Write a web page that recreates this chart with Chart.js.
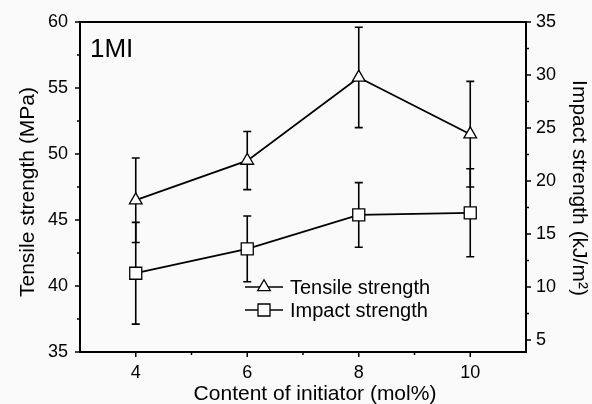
<!DOCTYPE html>
<html>
<head>
<meta charset="utf-8">
<script src="https://cdn.jsdelivr.net/npm/chart.js@4"></script>
<style>
  html, body { margin: 0; padding: 0; background: #fafafa; }
  #wrap { width: 592px; height: 404px; }
</style>
</head>
<body>
<div id="wrap"><canvas id="chart" width="592" height="404"></canvas></div>
<script>
// initiator content (mol%) and measured strengths with standard deviations
const initiator = [4, 6, 8, 10];
const tensile = [46.5, 49.5, 55.8, 51.5];
const tensileErr = [3.2, 2.2, 3.8, 4.0];
const impact = [11.3, 13.6, 16.8, 17.0];
const impactErr = [4.8, 3.1, 3.05, 4.15];

// labelled tick values
const xTicks = [4, 6, 8, 10];
const leftTicks = [35, 40, 45, 50, 55, 60];
const rightTicks = [5, 10, 15, 20, 25, 30, 35];

const FONT = "'Liberation Sans', Arial, sans-serif";
const INK = "#000";

const midpoints = (arr) => arr.slice(1).map((v, i) => (arr[i] + v) / 2);

// vertical error bars with caps, drawn under the markers
const errorBars = {
  id: "errorBars",
  beforeDatasetsDraw(chart) {
    const ctx = chart.ctx;
    const x = chart.scales.x;
    ctx.save();
    ctx.strokeStyle = INK;
    ctx.lineWidth = 1.6;
    chart.data.datasets.forEach((ds) => {
      const y = chart.scales[ds.yAxisID];
      ds.data.forEach((v, i) => {
        const px = x.getPixelForValue(initiator[i]);
        const top = y.getPixelForValue(v + ds.errors[i]);
        const bot = y.getPixelForValue(v - ds.errors[i]);
        ctx.beginPath();
        ctx.moveTo(px, top);
        ctx.lineTo(px, bot);
        ctx.moveTo(px - 4, top);
        ctx.lineTo(px + 4, top);
        ctx.moveTo(px - 4, bot);
        ctx.lineTo(px + 4, bot);
        ctx.stroke();
      });
    });
    ctx.restore();
  },
};

// frame top line, tick marks, titles, panel label and legend
const decorations = {
  id: "decorations",
  afterDraw(chart) {
    const ctx = chart.ctx;
    const area = chart.chartArea;
    const x = chart.scales.x;
    const yl = chart.scales.y;
    const yr = chart.scales.y1;
    ctx.save();
    ctx.strokeStyle = INK;
    ctx.fillStyle = INK;

    ctx.lineWidth = 2;
    ctx.beginPath();
    ctx.moveTo(area.left - 1, area.top);
    ctx.lineTo(area.right + 1, area.top);
    ctx.stroke();

    ctx.lineWidth = 1.5;
    ctx.beginPath();
    const tick = (vals, len, fn) => vals.forEach((v) => fn(v, len));
    const leftTick = (v, len) => {
      const p = yl.getPixelForValue(v);
      ctx.moveTo(area.left, p);
      ctx.lineTo(area.left - len, p);
    };
    const rightTick = (v, len) => {
      const p = yr.getPixelForValue(v);
      ctx.moveTo(area.right, p);
      ctx.lineTo(area.right + len, p);
    };
    const bottomTick = (v, len) => {
      const p = x.getPixelForValue(v);
      ctx.moveTo(p, area.bottom);
      ctx.lineTo(p, area.bottom + len);
    };
    tick(leftTicks, 5, leftTick);
    tick(midpoints(leftTicks), 3, leftTick);
    tick(rightTicks, 5, rightTick);
    tick(midpoints(rightTicks), 3, rightTick);
    tick(xTicks, 5, bottomTick);
    tick(midpoints(xTicks), 3, bottomTick);
    ctx.stroke();

    // axis titles
    ctx.font = "21px " + FONT;
    ctx.textAlign = "center";
    ctx.textBaseline = "alphabetic";
    ctx.fillText("Content of initiator (mol%)", 315, 400);

    ctx.save();
    ctx.translate(33.5, 192);
    ctx.rotate(-Math.PI / 2);
    ctx.fillText("Tensile strength (MPa)", 0, 0);
    ctx.restore();

    ctx.save();
    ctx.translate(573, 188);
    ctx.rotate(Math.PI / 2);
    ctx.fillText("Impact strength (kJ/m\u00b2)", 0, 0);
    ctx.restore();

    // panel label
    ctx.font = "26px " + FONT;
    ctx.textAlign = "left";
    ctx.fillText("1MI", 90, 57);

    // legend: line with marker, then the series name
    ctx.font = "20px " + FONT;
    ctx.textBaseline = "middle";
    chart.data.datasets.forEach((ds, i) => {
      const ly = 287 + i * 23;
      ctx.lineWidth = 1.6;
      ctx.beginPath();
      ctx.moveTo(245, ly);
      ctx.lineTo(283, ly);
      ctx.stroke();
      ctx.fillStyle = "#fff";
      ctx.lineWidth = 1.3;
      Chart.helpers.drawPoint(ctx, {
        pointStyle: ds.pointStyle,
        radius: ds.pointRadius,
        borderWidth: 1.3,
        rotation: 0,
      }, 264, ly);
      ctx.fillStyle = INK;
      ctx.fillText(ds.label, 290, ly + 1);
    });

    ctx.restore();
  },
};

const tickFont = { family: FONT, size: 18 };

new Chart(document.getElementById("chart"), {
  type: "line",
  data: {
    labels: initiator,
    datasets: [
      {
        label: "Tensile strength",
        data: tensile,
        errors: tensileErr,
        yAxisID: "y",
        borderColor: INK,
        borderWidth: 1.8,
        pointStyle: "triangle",
        pointRadius: 7.3,
        pointBackgroundColor: "#fff",
        pointBorderColor: INK,
        pointBorderWidth: 1.3,
        tension: 0,
      },
      {
        label: "Impact strength",
        data: impact,
        errors: impactErr,
        yAxisID: "y1",
        borderColor: INK,
        borderWidth: 1.8,
        pointStyle: "rect",
        pointRadius: 8.5,
        pointBackgroundColor: "#fff",
        pointBorderColor: INK,
        pointBorderWidth: 1.3,
        tension: 0,
      },
    ],
  },
  options: {
    responsive: false,
    devicePixelRatio: 1,
    animation: false,
    layout: { padding: { top: 22, left: 0, right: 0, bottom: 0 } },
    plugins: {
      legend: { display: false },
      tooltip: { enabled: false },
    },
    scales: {
      x: {
        type: "linear",
        min: 3,
        max: 11,
        afterBuildTicks: (s) => { s.ticks = xTicks.map((v) => ({ value: v })); },
        afterFit: (s) => { s.height = 52; },
        grid: { display: false, drawTicks: true, tickLength: 5 },
        border: { display: true, color: INK, width: 2 },
        ticks: { font: tickFont, color: INK, padding: 5, maxRotation: 0 },
      },
      y: {
        position: "left",
        min: 35,
        max: 60,
        afterBuildTicks: (s) => { s.ticks = leftTicks.map((v) => ({ value: v })); },
        afterFit: (s) => { s.width = 80; },
        grid: { display: false, drawTicks: true, tickLength: 5 },
        border: { display: true, color: INK, width: 2 },
        ticks: { font: tickFont, color: INK, padding: 7 },
      },
      y1: {
        position: "right",
        min: 3.87,
        max: 35,
        afterBuildTicks: (s) => { s.ticks = rightTicks.map((v) => ({ value: v })); },
        afterFit: (s) => { s.width = 66; },
        grid: { display: false, drawTicks: true, tickLength: 5 },
        border: { display: true, color: INK, width: 2 },
        ticks: { font: tickFont, color: INK, padding: 5 },
      },
    },
  },
  plugins: [errorBars, decorations],
});
</script>
</body>
</html>
